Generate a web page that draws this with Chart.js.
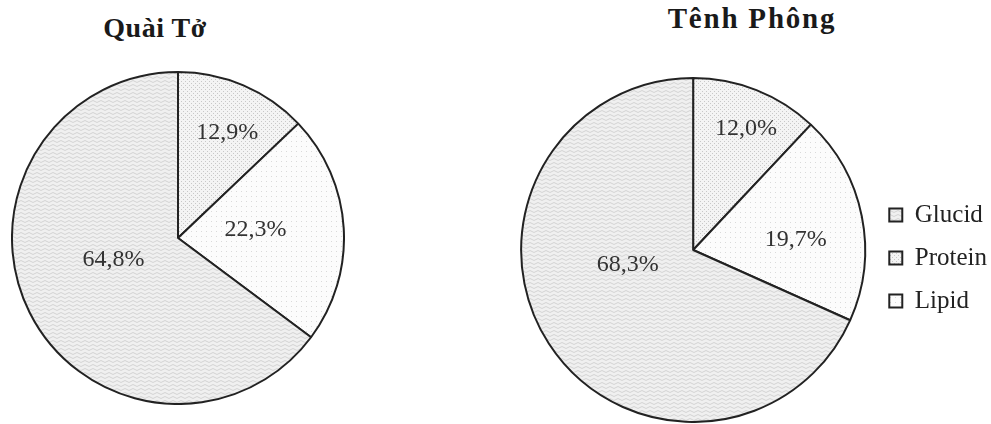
<!DOCTYPE html>
<html><head><meta charset="utf-8">
<script src="https://cdn.jsdelivr.net/npm/chart.js@4.4.1/dist/chart.umd.min.js"></script>
<style>
html,body{margin:0;padding:0;background:#fff;width:991px;height:424px;overflow:hidden;position:relative;}
.box{position:absolute;}
.title{position:absolute;font-family:"Liberation Serif","Times New Roman",serif;font-weight:bold;color:#1a1a1a;white-space:nowrap;line-height:1;transform:translateX(-50%);}
</style></head><body>
<div class="title" id="t1" style="left:155px;top:14px;font-size:28px;letter-spacing:0.5px"></div>
<div class="title" id="t2" style="left:752px;top:4px;font-size:29px;letter-spacing:1.8px"></div>
<div class="box" style="left:11px;top:71px;width:334px;height:334px"><canvas id="c1"></canvas></div>
<div class="box" style="left:520px;top:77px;width:472px;height:346px"><canvas id="c2"></canvas></div>
<script>
// ---- data ----
const categories = ['Protein', 'Lipid', 'Glucid'];
const quaiToValues = [12.9, 22.3, 64.8];
const tenhPhongValues = [12.0, 19.7, 68.3];
const chartTitles = ['Quài Tở', 'Tênh Phông'];
const legendOrder = ['Glucid', 'Protein', 'Lipid'];

document.getElementById('t1').textContent = chartTitles[0];
document.getElementById('t2').textContent = chartTitles[1];

function fmt(v) { return v.toFixed(1).replace('.', ',') + '%'; }

// ---- fill patterns ----
function makePattern(w, h, drawFn) {
  const c = document.createElement('canvas');
  c.width = w; c.height = h;
  const g = c.getContext('2d');
  drawFn(g, w, h);
  return g.createPattern(c, 'repeat');
}
const proteinPattern = makePattern(4, 4, (g) => {
  g.fillStyle = '#f4f4f4'; g.fillRect(0, 0, 4, 4);
  g.fillStyle = '#c8c8c8'; g.fillRect(0, 0, 1, 1); g.fillRect(2, 2, 1, 1);
});
const lipidPattern = makePattern(5, 5, (g) => {
  g.fillStyle = '#fcfcfc'; g.fillRect(0, 0, 5, 5);
  g.fillStyle = '#dadada'; g.fillRect(0, 0, 1, 1);
});
const glucidPattern = makePattern(8, 4, (g) => {
  g.fillStyle = '#f0f0f0'; g.fillRect(0, 0, 8, 4);
  g.strokeStyle = '#d3d3d3'; g.lineWidth = 1;
  g.beginPath(); g.moveTo(0, 2.5);
  g.quadraticCurveTo(2, 0.5, 4, 2.5); g.quadraticCurveTo(6, 4.5, 8, 2.5);
  g.stroke();
});
const fills = [proteinPattern, lipidPattern, glucidPattern];

// ---- plugins ----
const sliceLabels = {
  id: 'sliceLabels',
  afterDatasetsDraw(chart, args, opts) {
    const ctx = chart.ctx;
    const meta = chart.getDatasetMeta(0);
    const values = chart.data.datasets[0].data;
    ctx.save();
    ctx.font = opts.font;
    ctx.fillStyle = opts.color;
    ctx.textAlign = 'center';
    ctx.textBaseline = 'middle';
    meta.data.forEach((arc, i) => {
      const p = arc.getProps(['x', 'y', 'startAngle', 'endAngle', 'outerRadius'], true);
      const place = opts.placement[i];
      const a = (p.startAngle + p.endAngle) / 2 + place.turn * Math.PI / 180;
      const r = p.outerRadius * place.r;
      ctx.fillText(fmt(values[i]), p.x + Math.cos(a) * r, p.y + Math.sin(a) * r);
    });
    ctx.restore();
  }
};
const legendNudge = {
  id: 'legendNudge',
  afterLayout(chart, args, opts) {
    const lg = chart.legend;
    if (!lg || !opts || !opts.enabled) return;
    lg.left += opts.dx; lg.right += opts.dx;
    lg.top += opts.dy; lg.bottom += opts.dy;
  }
};

function makeChart(id, values, placement, showLegend) {
  return new Chart(document.getElementById(id), {
    type: 'pie',
    data: {
      labels: categories,
      datasets: [{
        data: values,
        backgroundColor: fills,
        borderColor: '#222',
        borderWidth: 2
      }]
    },
    options: {
      responsive: true,
      maintainAspectRatio: false,
      animation: false,
      events: [],
      layout: { padding: 0 },
      plugins: {
        tooltip: { enabled: false },
        title: { display: false },
        legend: {
          display: showLegend,
          position: 'right',
          align: 'center',
          labels: {
            font: { family: 'Liberation Serif', size: 25 },
            color: '#222',
            boxWidth: 13,
            boxHeight: 13,
            padding: 18,
            sort: (a, b) => legendOrder.indexOf(a.text) - legendOrder.indexOf(b.text)
          }
        },
        sliceLabels: {
          font: '24px "Liberation Serif"',
          color: '#333',
          placement: placement
        },
        legendNudge: { enabled: showLegend, dx: 5, dy: 8 }
      }
    },
    plugins: [sliceLabels, legendNudge]
  });
}

makeChart('c1', quaiToValues, [
  { r: 0.70, turn: 1.8 },
  { r: 0.47, turn: -2.5 },
  { r: 0.41, turn: 8 }
], false);
makeChart('c2', tenhPhongValues, [
  { r: 0.77, turn: 1.9 },
  { r: 0.60, turn: 5.7 },
  { r: 0.39, turn: 20 }
], true);
</script>
</body></html>
